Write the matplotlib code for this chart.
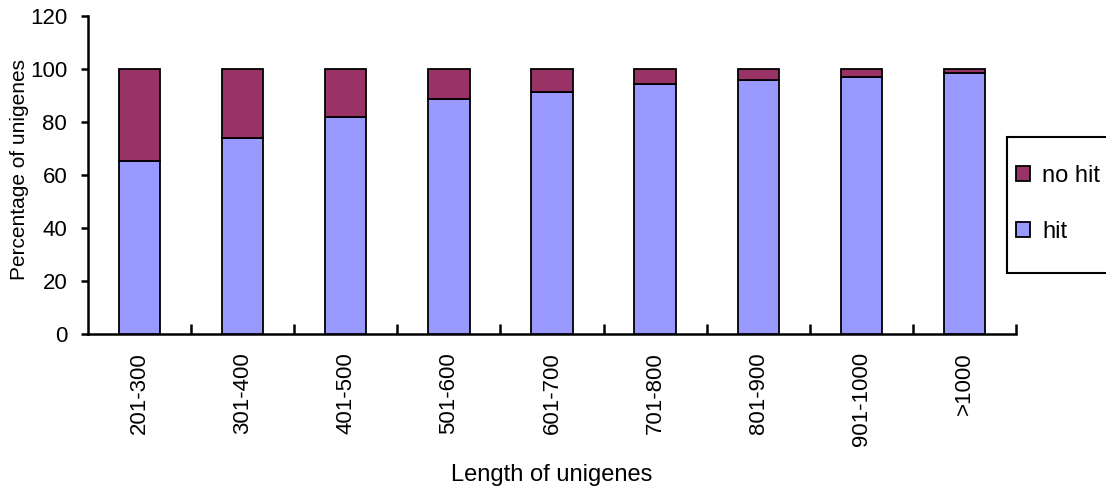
import matplotlib
matplotlib.use("Agg")
import matplotlib.pyplot as plt
from matplotlib.patches import Rectangle
import numpy as np

plt.rcParams['font.family'] = ['Liberation Sans', 'DejaVu Sans']

categories = ['201-300', '301-400', '401-500', '501-600', '601-700',
              '701-800', '801-900', '901-1000', '>1000']
hit = [65.1, 73.8, 81.7, 88.7, 91.5, 94.4, 95.7, 97.0, 98.5]
no_hit = [round(100 - v, 1) for v in hit]

hit_color = '#9999FF'
no_hit_color = '#993366'

W, H = 1106, 492
fig = plt.figure(figsize=(W / 100, H / 100), dpi=100)
ax = fig.add_axes([88 / W, 1 - 334 / H, (1016 - 88) / W, (334 - 16) / H])

x = np.arange(len(categories))
b_hit = ax.bar(x, hit, width=0.4, color=hit_color, edgecolor='black',
               linewidth=1.3, label='hit', zorder=3)
b_no = ax.bar(x, no_hit, width=0.4, bottom=hit, color=no_hit_color,
              edgecolor='black', linewidth=1.3, label='no hit', zorder=3)

ax.set_xlim(-0.5, len(categories) - 0.5)
ax.set_ylim(0, 120)
ax.set_yticks(np.arange(0, 121, 20))

for s in ['top', 'right']:
    ax.spines[s].set_visible(False)
for s in ['left', 'bottom']:
    ax.spines[s].set_linewidth(1.8)

ax.tick_params(axis='y', direction='out', length=5, width=1.8,
               labelsize=16, pad=10)
ax.set_xticks(x)
ax.set_xticklabels(categories, rotation=90, fontsize=16)
ax.tick_params(axis='x', which='major', length=0, pad=13)
ax.set_xticks(np.arange(0.5, len(categories)), minor=True)
ax.tick_params(axis='x', which='minor', direction='in', length=7, width=1.8)

ax.set_xlabel('Length of unigenes', fontsize=17, va='center')
ax.xaxis.set_label_coords(0.5, -(475 - 334) / 318)
ax.set_ylabel('Percentage of unigenes', fontsize=15, va='center')
ax.yaxis.set_label_coords(-(88 - 20) / 928, (334 - 170) / 318)

# legend frame drawn in figure coordinates, running off the right edge
fig.patches.append(Rectangle((1007 / W, 1 - 273 / H), 120 / W, (273 - 137) / H,
                             transform=fig.transFigure, facecolor='white',
                             edgecolor='black', linewidth=1.5, zorder=5))
leg = fig.legend(handles=[b_no, b_hit], labels=['no hit', 'hit'],
                 loc='upper left', bbox_to_anchor=(1016 / W, 1 - 165 / H),
                 frameon=False, fontsize=17, handlelength=0.6,
                 handleheight=0.6, handletextpad=0.5, labelspacing=1.45,
                 borderpad=0, borderaxespad=0)
leg.set_zorder(6)

fig.savefig('out.png', dpi=100)
